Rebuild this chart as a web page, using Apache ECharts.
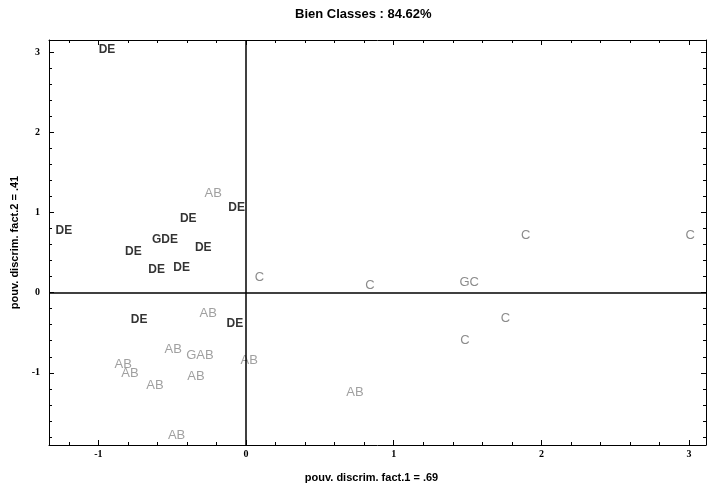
<!DOCTYPE html>
<html>
<head>
<meta charset="utf-8">
<script src="https://cdn.jsdelivr.net/npm/echarts@6/dist/echarts.min.js"></script>
<style>
  html, body { margin: 0; padding: 0; background: #fff; }
  #main { width: 712px; height: 491px; }
</style>
</head>
<body>
<div id="main"></div>
<script>
// bornes des axes et graduations
var xMin = -1.335, xMax = 3.115
var yMin = -1.90, yMax = 3.15
var xTicks = [-1, 0, 1, 2, 3]
var yTicks = [-1, 0, 1, 2, 3]

// observations par groupe [fact.1, fact.2]
var dePoints = [
  [-0.942, 3.024], [-1.234, 0.769], [-0.064, 1.065], [-0.392, 0.928], [-0.290, 0.561],
  [-0.764, 0.511], [-0.606, 0.292], [-0.437, 0.312], [-0.724, -0.332], [-0.076, -0.390]
]
var abPoints = [
  [-0.223, 1.231], [-0.257, -0.257], [-0.494, -0.706], [-0.832, -0.901], [-0.787, -1.005],
  [-0.340, -1.047], [-0.617, -1.151], [0.021, -0.848], [-0.471, -1.783], [0.737, -1.247]
]
var cPoints = [
  [0.090, 0.187], [0.838, 0.084], [1.894, 0.719], [3.008, 0.719], [1.757, -0.319], [1.483, -0.599]
]
// centres de gravite
var gdePoint = [[-0.550, 0.666]]
var gabPoint = [[-0.313, -0.777]]
var gcPoint = [[1.511, 0.130]]

function minors (min, max) {
  var out = []
  for (var i = Math.ceil(min * 5); i <= Math.floor(max * 5); i++) {
    if (i % 5 !== 0) out.push(i / 5)
  }
  return out
}

var tickFont = { color: '#000', fontFamily: 'Liberation Serif', fontWeight: 'bold', fontSize: 10 }
var nameFont = { color: '#000', fontFamily: 'Liberation Sans', fontWeight: 'bold', fontSize: 11 }

function makeAxis (pos, min, max, ticks, len, line, labels, name) {
  var ax = {
    type: 'value',
    position: pos,
    min: min,
    max: max,
    splitLine: { show: false },
    axisLine: { show: line, onZero: false, lineStyle: { color: '#000', width: 1 } },
    axisTick: { show: true, inside: true, length: len, customValues: ticks, lineStyle: { color: '#000', width: 1 } },
    axisLabel: { show: labels }
  }
  if (labels) {
    ax.axisLabel = Object.assign({ show: true, customValues: ticks, margin: pos === 'left' ? 9 : 4 }, tickFont)
  }
  if (name) {
    ax.name = name
    ax.nameLocation = 'middle'
    ax.nameGap = pos === 'left' ? 24 : 27
    ax.nameTextStyle = Object.assign({}, nameFont, pos === 'left' ? {} : { padding: [0, 12, 0, 0] })
  }
  return ax
}

function labelSeries (name, points, color, bold, size) {
  return {
    name: name,
    type: 'scatter',
    data: points,
    symbolSize: 1,
    itemStyle: { color: 'transparent' },
    silent: true,
    label: {
      show: true,
      position: 'inside',
      formatter: name,
      color: color,
      fontFamily: 'Liberation Sans',
      fontWeight: bold ? 'bold' : 'normal',
      fontSize: size
    }
  }
}

var myChart = echarts.init(document.getElementById('main'))
var option = {
  animation: false,
  backgroundColor: '#fff',
  title: {
    text: 'Bien Classes : 84.62%',
    left: 295,
    top: 8,
    padding: 0,
    textStyle: { color: '#000', fontFamily: 'Liberation Sans', fontWeight: 'bold', fontSize: 13 }
  },
  grid: { left: 49, right: 6, top: 40, bottom: 46 },
  xAxis: [
    makeAxis('bottom', xMin, xMax, xTicks, 5, true, true, 'pouv. discrim. fact.1 = .69'),
    makeAxis('bottom', xMin, xMax, minors(xMin, xMax), 3, false, false),
    makeAxis('top', xMin, xMax, xTicks, 5, true, false),
    makeAxis('top', xMin, xMax, minors(xMin, xMax), 3, false, false)
  ],
  yAxis: [
    makeAxis('left', yMin, yMax, yTicks, 5, true, true, 'pouv. discrim. fact.2 = .41'),
    makeAxis('left', yMin, yMax, minors(yMin, yMax), 3, false, false),
    makeAxis('right', yMin, yMax, yTicks, 5, true, false),
    makeAxis('right', yMin, yMax, minors(yMin, yMax), 3, false, false)
  ],
  series: [
    Object.assign(labelSeries('DE', dePoints, '#000', true, 12), {
      markLine: {
        silent: true,
        symbol: 'none',
        label: { show: false },
        lineStyle: { color: '#000', width: 1.5, type: 'solid' },
        data: [{ xAxis: 0 }, { yAxis: 0 }]
      }
    }),
    labelSeries('GDE', gdePoint, '#000', true, 12),
    labelSeries('AB', abPoints, '#888', false, 13),
    labelSeries('GAB', gabPoint, '#888', false, 13),
    labelSeries('C', cPoints, '#6e6e6e', false, 13),
    labelSeries('GC', gcPoint, '#6e6e6e', false, 13)
  ]
}
myChart.setOption(option)
</script>
</body>
</html>
